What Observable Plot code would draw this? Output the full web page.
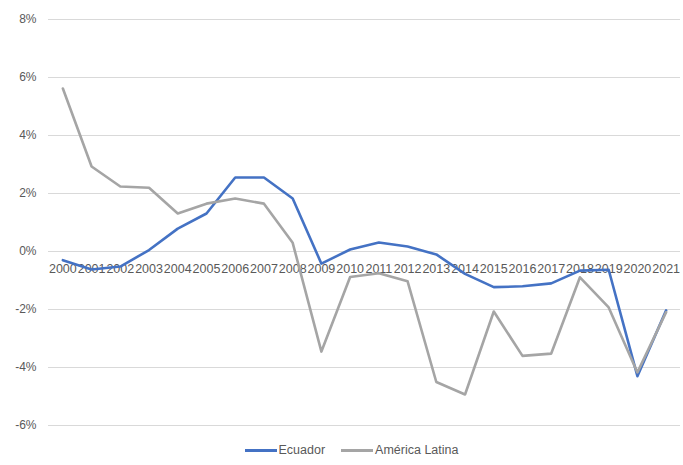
<!DOCTYPE html>
<html>
<head>
<meta charset="utf-8">
<script src="https://cdn.jsdelivr.net/npm/d3@7"></script>
<script src="https://cdn.jsdelivr.net/npm/@observablehq/plot@0.6"></script>
<style>
  body { margin: 0; background: #fff; font-family: "Liberation Sans", Arial, sans-serif; }
  #legend { display: flex; justify-content: center; align-items: center; gap: 16px; font-size: 12.5px; color: #595959; height: 26px; margin-left: 20px; }
  .item { display: flex; align-items: center; }
  .sw { width: 32px; height: 3px; margin-right: 2px; }
</style>
</head>
<body>
<div id="chart"></div>
<div id="legend"></div>
<script>
const years = ["2000","2001","2002","2003","2004","2005","2006","2007","2008","2009","2010","2011","2012","2013","2014","2015","2016","2017","2018","2019","2020","2021"];
const ecuador = [-0.3,-0.62,-0.52,0.05,0.79,1.31,2.55,2.55,1.83,-0.42,0.07,0.31,0.17,-0.1,-0.77,-1.23,-1.2,-1.1,-0.66,-0.63,-4.3,-2.03];
const latam = [5.62,2.93,2.24,2.2,1.31,1.65,1.83,1.65,0.3,-3.45,-0.88,-0.75,-1.03,-4.5,-4.93,-2.07,-3.6,-3.52,-0.89,-1.93,-4.17,-2.09];
const yTicks = [-6,-4,-2,0,2,4,6,8];
const seriesNames = ["Ecuador", "América Latina"];
const colors = ["#4472C4", "#A5A5A5"];

const rows = [];
years.forEach((y, i) => {
  rows.push({year: y, value: ecuador[i], series: seriesNames[0]});
});
years.forEach((y, i) => {
  rows.push({year: y, value: latam[i], series: seriesNames[1]});
});

const chart = Plot.plot({
  width: 683,
  height: 437,
  marginTop: 19,
  marginBottom: 12,
  marginLeft: 48,
  marginRight: 3,
  style: { fontFamily: "Liberation Sans, Arial, sans-serif", fontSize: "12px", color: "#595959", background: "#fff" },
  x: { type: "point", domain: years, padding: 0.5, round: false, axis: null },
  y: { domain: [-6, 8] },
  color: { domain: seriesNames, range: colors },
  marks: [
    Plot.gridY(yTicks, { stroke: "#d9d9d9", strokeOpacity: 1, strokeWidth: 1 }),
    Plot.axisY(yTicks, { tickSize: 0, tickPadding: 12, tickFormat: d => d + "%", fill: "#595959", fontSize: 12, label: null }),
    Plot.text(years, { x: d => d, y: () => 0, dy: 17, text: d => d, fill: "#595959", fontSize: 12.5 }),
    Plot.line(rows.filter(r => r.series === seriesNames[0]), { x: "year", y: "value", stroke: "series", strokeWidth: 2.6 }),
    Plot.line(rows.filter(r => r.series === seriesNames[1]), { x: "year", y: "value", stroke: "series", strokeWidth: 2.6 })
  ]
});
document.getElementById("chart").appendChild(chart);

const legend = document.getElementById("legend");
seriesNames.forEach((n, i) => {
  const it = document.createElement("div");
  it.className = "item";
  it.innerHTML = `<span class="sw" style="background:${colors[i]}"></span><span>${n}</span>`;
  legend.appendChild(it);
});
</script>
</body>
</html>
